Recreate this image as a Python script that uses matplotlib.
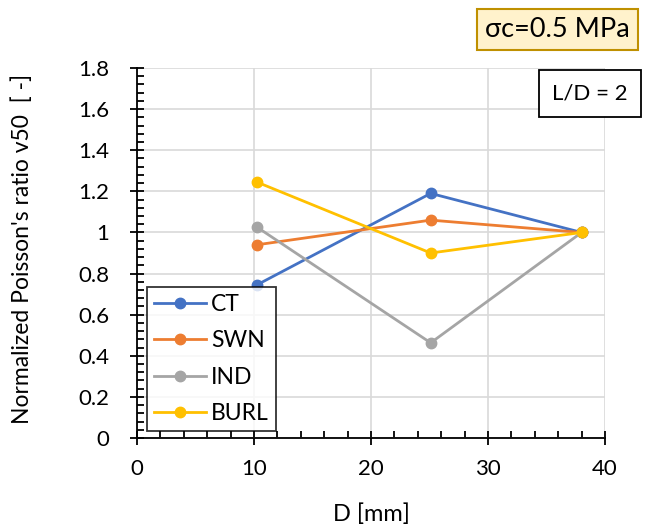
import matplotlib
matplotlib.use('Agg')
import matplotlib.pyplot as plt
from matplotlib.ticker import MultipleLocator

plt.rcParams['font.family'] = ['Lato', 'DejaVu Sans']

# diameters and normalized Poisson's ratio per rock type
diameter = [10.25, 25.1, 38.0]
ct = [0.745, 1.19, 1.0]
swn = [0.94, 1.06, 1.0]
ind = [1.026, 0.463, 1.0]
burl = [1.245, 0.90, 1.0]

series = [('CT', ct, '#4472C4'), ('SWN', swn, '#ED7D31'),
          ('IND', ind, '#A5A5A5'), ('BURL', burl, '#FFC000')]

fig = plt.figure(figsize=(6.5, 5.24), dpi=100)
ax = fig.add_axes([0.2108, 0.1641, 0.72, 0.7061])

for name, vals, col in series:
    ax.plot(diameter, vals, color=col, lw=2, marker='o', ms=7.5, label=name, zorder=3)

ax.set_xlim(0, 40)
ax.set_ylim(0, 1.8)
ax.xaxis.set_major_locator(MultipleLocator(10))
ax.xaxis.set_minor_locator(MultipleLocator(2))
ax.yaxis.set_major_locator(MultipleLocator(0.2))
ax.yaxis.set_minor_locator(MultipleLocator(0.04))
ax.yaxis.set_major_formatter(lambda v, p: '{:g}'.format(round(v, 1)))

ax.grid(True, which='major', color='#D9D9D9', lw=1.2, zorder=0)
ax.set_axisbelow(True)
for s in ['top', 'right']:
    ax.spines[s].set_visible(False)
for s in ['left', 'bottom']:
    ax.spines[s].set_linewidth(1.3)
ax.tick_params(which='major', direction='inout', length=10, width=1.3, labelsize=16)
ax.tick_params(which='minor', direction='in', length=5, width=1.3)
ax.tick_params(axis='x', pad=10)
ax.tick_params(axis='y', pad=15)

ax.set_xlabel('D [mm]', fontsize=17, labelpad=18)
ax.set_ylabel("Normalized Poisson's ratio v50  [ -]", fontsize=16.5)
ax.yaxis.set_label_coords(-0.222, 0.51)

leg = ax.legend(loc='lower left', bbox_to_anchor=(0.021, 0.02), fontsize=16.5,
                frameon=True, fancybox=False, edgecolor='black',
                handlelength=2.3, labelspacing=0.66, borderpad=0.3,
                handletextpad=0.2, borderaxespad=0)
leg.get_frame().set_linewidth(1.3)

fig.text(0.858, 0.943, '\u03c3c=0.5 MPa', fontsize=19.5, ha='center', va='center',
         bbox=dict(boxstyle='square,pad=0.3', facecolor='#FFF2CC',
                   edgecolor='#BF9000', lw=1.5))
fig.text(0.908, 0.821, 'L/D = 2', fontsize=16, ha='center', va='center',
         bbox=dict(boxstyle='square,pad=0.6', facecolor='white',
                   edgecolor='black', lw=1.3))

fig.savefig('out.png', dpi=100)
